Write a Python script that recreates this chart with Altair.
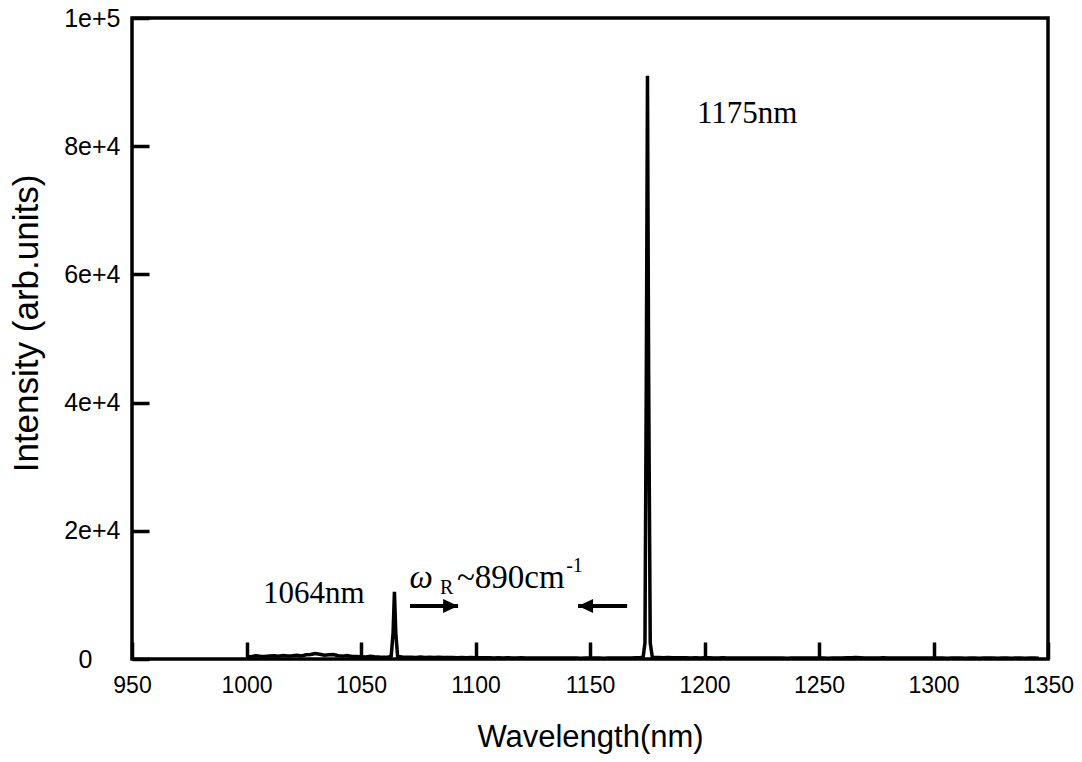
import altair as alt
import pandas as pd

# ---- spectrum data ----
wl_a = [1000, 1002, 1004, 1006, 1008, 1010, 1012, 1014, 1016, 1018, 1020, 1022, 1024, 1026,
        1028, 1030, 1032, 1034, 1036, 1038, 1040, 1042, 1044, 1046, 1048, 1050, 1052, 1054,
        1056, 1058, 1060, 1062]
in_a = [400, 350, 500, 420, 380, 450, 500, 420, 550, 480, 520, 600, 480, 650,
        700, 850, 750, 600, 650, 700, 500, 450, 550, 400, 380, 350, 300, 420,
        350, 300, 280, 300]
wl_p1 = [1063.2, 1064.0, 1064.6, 1065.2, 1066.0]
in_p1 = [500, 4000, 10500, 4000, 400]
wl_b = [1068, 1070, 1072, 1074, 1076, 1078, 1080, 1082, 1084, 1086, 1088, 1090, 1092, 1094,
        1096, 1098, 1100, 1102, 1104, 1106, 1108, 1110, 1112, 1114, 1116, 1118, 1120, 1122,
        1124, 1126, 1128, 1130, 1132, 1134, 1136, 1138, 1140, 1142, 1144, 1146, 1148, 1150,
        1152, 1154, 1156, 1158, 1160, 1162, 1164, 1166, 1168, 1170, 1172]
in_b = [300, 260, 280, 240, 300, 250, 270, 230, 260, 240, 220, 250, 210, 230,
        200, 220, 190, 210, 180, 200, 170, 190, 160, 200, 170, 150, 180, 160,
        150, 170, 140, 160, 150, 170, 140, 150, 160, 140, 150, 130, 160, 150,
        140, 160, 130, 150, 160, 140, 170, 150, 160, 180, 200]
wl_p2 = [1173.2, 1174.0, 1174.6, 1175.1, 1175.6, 1176.3, 1177.2]
in_p2 = [300, 2500, 45000, 91000, 45000, 2500, 300]
wl_c = [1178, 1180, 1182, 1184, 1186, 1188, 1190, 1192, 1194, 1196, 1198, 1200, 1202, 1204,
        1206, 1208, 1210, 1212, 1214, 1216, 1218, 1220, 1222, 1224, 1226, 1228, 1230, 1232,
        1234, 1236, 1238, 1240, 1242, 1244, 1246, 1248, 1250, 1252, 1254, 1256, 1258, 1260,
        1262, 1264, 1266, 1268, 1270, 1272, 1274, 1276, 1278, 1280, 1282, 1284, 1286, 1288,
        1290, 1292, 1294, 1296, 1298, 1300, 1302, 1304, 1306, 1308, 1310, 1312, 1314, 1316,
        1318, 1320, 1322, 1324, 1326, 1328, 1330, 1332, 1334, 1336, 1338, 1340, 1342, 1344,
        1346]
in_c = [250, 220, 200, 230, 190, 210, 180, 200, 170, 190, 160, 180, 200, 170,
        160, 180, 150, 170, 160, 140, 170, 150, 160, 140, 150, 170, 140, 160,
        150, 130, 160, 140, 150, 170, 140, 150, 160, 140, 130, 150, 160, 170,
        180, 200, 220, 190, 170, 160, 150, 170, 180, 160, 150, 170, 140, 160,
        150, 140, 160, 150, 170, 150, 140, 160, 130, 150, 140, 160, 130, 150,
        140, 130, 150, 140, 160, 130, 150, 140, 130, 150, 140, 130, 150, 140,
        130]

wavelength = wl_a + wl_p1 + wl_b + wl_p2 + wl_c
intensity = in_a + in_p1 + in_b + in_p2 + in_c

x_ticks = [950, 1000, 1050, 1100, 1150, 1200, 1250, 1300, 1350]
y_ticks = [0, 20000, 40000, 60000, 80000, 100000]

# annotations (data units)
ann_text = ["1064nm", "1175nm"]
ann_x = [1007.2, 1196.7]
ann_y = [8736, 83620]

arrow_x = [1071.4, 1166.2]
arrow_x2 = [1092.4, 1144.8]
arrow_y = [8270, 8270]

# omega_R ~890cm^-1 pieces
om_text = ["R", "~890cm", "-1"]
om_x = [1084.5, 1091.9, 1139.6]
om_y = [10140, 11076, 13600]
om_size = [20, 33, 20]
omega_x = [1071.2]
omega_y = [11076]

W, H = 916, 641

df = pd.DataFrame({"wl": wavelength, "inten": intensity})

label_expr = ("datum.value == 0 ? '0' : datum.value == 20000 ? '2e+4' : datum.value == 40000 ? '4e+4' : "
              "datum.value == 60000 ? '6e+4' : datum.value == 80000 ? '8e+4' : '1e+5'")

xscale = alt.Scale(domain=[950, 1350], nice=False, zero=False)
yscale = alt.Scale(domain=[0, 100000], nice=False)

base = alt.Chart(df)

line = base.mark_line(color="black", strokeWidth=3.5, strokeJoin="miter").encode(
    x=alt.X("wl:Q", scale=xscale,
            axis=alt.Axis(values=x_ticks, title="Wavelength(nm)", ticks=False, tickSize=0, domain=False,
                          grid=False, format="d", labelFont="Liberation Sans", labelFontSize=23,
                          labelColor="black", labelPadding=15, titleFont="Liberation Sans",
                          titleFontSize=31, titleFontWeight="normal", titleColor="black",
                          titlePadding=25, labelFlush=False)),
    y=alt.Y("inten:Q", scale=yscale,
            axis=alt.Axis(values=y_ticks, title="Intensity (arb.units)", ticks=False, tickSize=0,
                          domain=False, grid=False, labelExpr=label_expr,
                          labelFont="Liberation Sans", labelFontSize=25, labelColor="black",
                          labelAlign={"condition": {"test": "datum.value == 0", "value": "center"},
                                      "value": "right"},
                          labelPadding={"condition": {"test": "datum.value == 0", "value": 47},
                                        "value": 12},
                          labelFlush=False,
                          titleFont="Liberation Sans", titleFontSize=35, titleFontWeight="normal",
                          titleColor="black", titlePadding=19, titleY=305)),
)

tick_layer = base.mark_line(opacity=0).encode(
    x=alt.X("wl:Q", scale=xscale,
            axis=alt.Axis(values=x_ticks, orient="top", offset=-H, labels=False, title=None,
                          domain=False, grid=False, ticks=True, tickSize=17, tickWidth=3.5,
                          tickColor="black")),
    y=alt.Y("inten:Q", scale=yscale,
            axis=alt.Axis(values=y_ticks, orient="right", offset=-W, labels=False, title=None,
                          domain=False, grid=False, ticks=True, tickSize=17, tickWidth=3.5,
                          tickColor="black")),
)

X = lambda f: alt.X(f, scale=xscale, axis=None)
Y = lambda f: alt.Y(f, scale=yscale, axis=None)

ann_df = pd.DataFrame({"t": ann_text, "x": ann_x, "y": ann_y})
ann = alt.Chart(ann_df).mark_text(font="Liberation Serif", fontSize=31, align="left",
                                  baseline="alphabetic", color="black").encode(
    x=X("x:Q"), y=Y("y:Q"), text="t:N")

om_df = pd.DataFrame({"t": om_text, "x": om_x, "y": om_y, "s": om_size})
om = alt.Chart(om_df).mark_text(font="Liberation Serif", align="left", baseline="alphabetic",
                                color="black").encode(
    x=X("x:Q"), y=Y("y:Q"), text="t:N",
    size=alt.Size("s:Q", scale=None, legend=None))

omega_df = pd.DataFrame({"t": ["ω"], "x": omega_x, "y": omega_y})
omega = alt.Chart(omega_df).mark_text(font="Liberation Serif", fontSize=33, fontStyle="italic",
                                      align="left", baseline="alphabetic", color="black").encode(
    x=X("x:Q"), y=Y("y:Q"), text="t:N")

arr_df = pd.DataFrame({"x": arrow_x, "x2": arrow_x2, "y": arrow_y,
                       "dir": ["right", "left"]})
shafts = alt.Chart(arr_df).mark_rule(color="black", strokeWidth=4).encode(
    x=X("x:Q"), x2="x2:Q", y=Y("y:Q"))

head_r = alt.Chart(arr_df[arr_df.dir == "right"]).mark_point(
    shape="M0,0L-1,-0.47L-1,0.47Z", filled=True, color="black", opacity=1, size=900).encode(
    x=X("x2:Q"), y=Y("y:Q"))
head_l = alt.Chart(arr_df[arr_df.dir == "left"]).mark_point(
    shape="M0,0L1,-0.47L1,0.47Z", filled=True, color="black", opacity=1, size=900).encode(
    x=X("x2:Q"), y=Y("y:Q"))

chart = alt.layer(line, tick_layer, ann, omega, om, shafts, head_r, head_l).resolve_axis(
    x="independent", y="independent").properties(
    width=W, height=H,
    background="white",
    autosize=alt.AutoSizeParams(type="none"),
    padding={"left": 124, "top": 10, "right": 26, "bottom": 95},
).configure_view(stroke="black", strokeWidth=3.5)

chart.save("out.html", embed_options={"renderer": "svg", "actions": False})
